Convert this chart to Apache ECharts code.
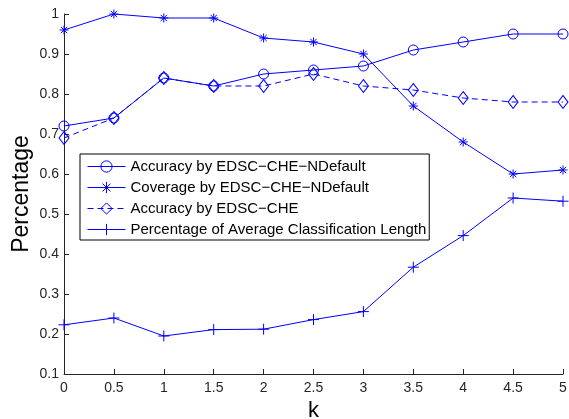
<!DOCTYPE html>
<html>
<head>
<meta charset="utf-8">
<script src="https://cdn.jsdelivr.net/npm/echarts@6/dist/echarts.min.js"></script>
<style>
  html, body { margin: 0; padding: 0; background: #fff; }
  #chart { width: 569px; height: 419px; }
</style>
</head>
<body>
<div id="chart"></div>
<script>
// Parameter k on the horizontal axis
const kValues = [0, 0.5, 1, 1.5, 2, 2.5, 3, 3.5, 4, 4.5, 5];

// Series values, one per k
const accuracyNDefault = [0.72, 0.74, 0.84, 0.82, 0.85, 0.86, 0.87, 0.91, 0.93, 0.95, 0.95];
const coverageNDefault = [0.96, 1.00, 0.99, 0.99, 0.94, 0.93, 0.90, 0.77, 0.68, 0.60, 0.61];
const accuracyEDSC     = [0.69, 0.74, 0.84, 0.82, 0.82, 0.85, 0.82, 0.81, 0.79, 0.78, 0.78];
const avgClassLength   = [0.223, 0.240, 0.195, 0.211, 0.212, 0.236, 0.256, 0.367, 0.446, 0.540, 0.532];

const seriesNames = [
  'Accuracy by EDSC\u2212CHE\u2212NDefault',
  'Coverage by EDSC\u2212CHE\u2212NDefault',
  'Accuracy by EDSC\u2212CHE',
  'Percentage of Average Classification Length'
];

// Axis ranges and steps
const yMin = 0.1, yMax = 1, yStep = 0.1;
const xMin = 0, xMax = 5, xStep = 0.5;

const BLUE = '#0000ff';
const CLEAR = 'rgba(0,0,0,0)';
const FONT = '"Liberation Sans", Arial, Helvetica, sans-serif';

const ASTERISK = 'path://M0,5L10,5M5,0L5,10M1.5,1.5L8.5,8.5M1.5,8.5L8.5,1.5';
const PLUS = 'path://M0,5L10,5M5,0L5,10';

function pairs(values) {
  return kValues.map((k, i) => [k, values[i]]);
}

function lineSeries(name, values, symbol, size, dashed) {
  return {
    name: name,
    type: 'line',
    data: pairs(values),
    symbol: symbol,
    symbolSize: size,
    showAllSymbol: true,
    lineStyle: { color: BLUE, width: 1, type: dashed ? [6, 4] : 'solid' },
    itemStyle: { color: CLEAR, borderColor: BLUE, borderWidth: 1 },
    emphasis: { disabled: true },
    silent: true
  };
}

const chart = echarts.init(document.getElementById('chart'), null, { renderer: 'canvas' });

chart.setOption({
  animation: false,
  backgroundColor: '#fff',
  textStyle: { fontFamily: FONT },
  grid: {
    left: 64, top: 14, width: 499, height: 360,
    containLabel: false,
    outerBoundsMode: 'none'
  },
  legend: {
    orient: 'vertical',
    left: 80,
    top: 154,
    padding: [5, 3, 3, 7],
    itemWidth: 38,
    itemHeight: 14,
    itemGap: 6,
    backgroundColor: '#fff',
    borderColor: '#000',
    borderWidth: 1,
    borderRadius: 0,
    selectedMode: false,
    data: seriesNames,
    lineStyle: { color: BLUE, width: 1 },
    itemStyle: { color: CLEAR, borderColor: BLUE, borderWidth: 1 },
    textStyle: { fontFamily: FONT, fontSize: 15, color: '#000', lineHeight: 14 }
  },
  xAxis: {
    type: 'value',
    min: xMin,
    max: xMax,
    interval: xStep,
    name: 'k',
    nameLocation: 'middle',
    nameGap: 24,
    nameTextStyle: { fontFamily: FONT, fontSize: 22, color: '#000' },
    axisLine: { show: true, lineStyle: { color: '#262626', width: 1 } },
    axisTick: { show: true, inside: true, length: 5, lineStyle: { color: '#262626' } },
    axisLabel: { fontFamily: FONT, fontSize: 14, color: '#262626', margin: 7 },
    splitLine: { show: false }
  },
  yAxis: {
    type: 'value',
    min: yMin,
    max: yMax,
    interval: yStep,
    name: 'Percentage',
    nameLocation: 'middle',
    nameMoveOverlap: false,
    nameGap: 31,
    nameTextStyle: { fontFamily: FONT, fontSize: 23, color: '#000' },
    axisLine: { show: true, lineStyle: { color: '#262626', width: 1 } },
    axisTick: { show: true, inside: true, length: 5, lineStyle: { color: '#262626' } },
    axisLabel: {
      fontFamily: FONT, fontSize: 14, color: '#262626', margin: 5,
      formatter: v => String(Math.round(v * 10) / 10)
    },
    splitLine: { show: false }
  },
  series: [
    lineSeries(seriesNames[0], accuracyNDefault, 'circle', 10, false),
    lineSeries(seriesNames[1], coverageNDefault, ASTERISK, 9, false),
    lineSeries(seriesNames[2], accuracyEDSC, 'diamond', [10, 13], true),
    lineSeries(seriesNames[3], avgClassLength, PLUS, 11, false)
  ]
});
</script>
</body>
</html>
